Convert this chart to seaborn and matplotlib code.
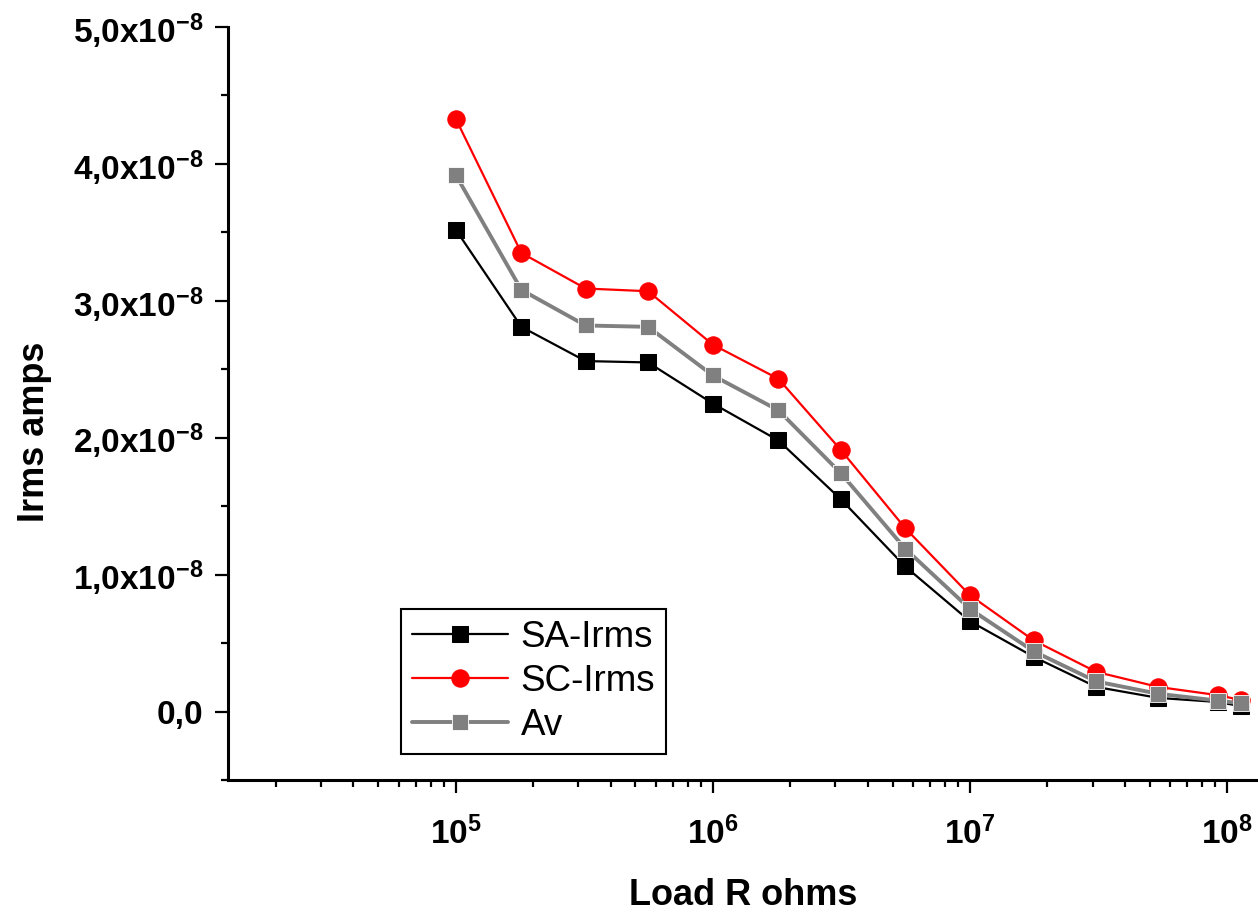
import numpy as np
import pandas as pd
import matplotlib
matplotlib.use("Agg")
import matplotlib.pyplot as plt
from matplotlib.ticker import FuncFormatter, MultipleLocator, LogLocator
import seaborn as sns

# load resistance (ohms) and rms current (x1e-8 A)
load_r = [1e5, 1.8e5, 3.2e5, 5.6e5, 1e6, 1.8e6, 3.15e6, 5.6e6,
          1e7, 1.77e7, 3.1e7, 5.4e7, 9.2e7, 1.13e8]
sa_irms = [3.52, 2.81, 2.56, 2.55, 2.25, 1.98, 1.55, 1.06,
           0.66, 0.40, 0.18, 0.10, 0.07, 0.04]
sc_irms = [4.33, 3.35, 3.09, 3.07, 2.68, 2.43, 1.91, 1.34,
           0.85, 0.52, 0.29, 0.18, 0.12, 0.085]
av_irms = [3.92, 3.08, 2.82, 2.81, 2.455, 2.20, 1.74, 1.19,
           0.75, 0.44, 0.22, 0.13, 0.08, 0.06]
scale = 1e-8

df = pd.DataFrame({"R": load_r,
                   "SA-Irms": np.array(sa_irms) * scale,
                   "SC-Irms": np.array(sc_irms) * scale,
                   "Av": np.array(av_irms) * scale})

sns.set_style("ticks")
plt.rcParams["font.family"] = ["Liberation Sans", "DejaVu Sans"]
plt.rcParams["font.weight"] = "bold"
plt.rcParams["mathtext.fontset"] = "custom"
plt.rcParams["mathtext.rm"] = "Liberation Sans:bold"
plt.rcParams["mathtext.bf"] = "Liberation Sans:bold"
plt.rcParams["mathtext.default"] = "rm"
for k in ["text.color", "axes.labelcolor", "xtick.color", "ytick.color", "axes.edgecolor"]:
    plt.rcParams[k] = "black"

fig = plt.figure(figsize=(12.58, 9.15), dpi=100)
ax = fig.add_axes([0.1812, 0.1475, 0.8188, 0.823])

sns.lineplot(data=df, x="R", y="SA-Irms", ax=ax, color="black", lw=1.6,
             marker="s", markersize=11.5, markeredgecolor="black", label="SA-Irms")
sns.lineplot(data=df, x="R", y="SC-Irms", ax=ax, color="#ff0000", lw=1.6,
             marker="o", markersize=12.5, markeredgecolor="#ff0000", label="SC-Irms")
sns.lineplot(data=df, x="R", y="Av", ax=ax, color="#808080", lw=2.8,
             marker="s", markersize=12, markeredgecolor="white",
             markeredgewidth=0.6, label="Av")

ax.set_xscale("log")
ax.set_xlim(1.3e4, 1.32e8)
ax.set_ylim(-0.5e-8, 5.0e-8)
ax.xaxis.set_major_locator(LogLocator(base=10))
ax.xaxis.set_minor_locator(LogLocator(base=10, subs=np.arange(2, 10)))
ax.xaxis.set_major_formatter(FuncFormatter(lambda v, p: "10$^{%d}$" % round(np.log10(v))))
ax.yaxis.set_major_locator(MultipleLocator(1e-8))
ax.yaxis.set_minor_locator(MultipleLocator(0.5e-8))


def yfmt(v, pos):
    m = v / scale
    if abs(m) < 1e-6:
        return "0,0"
    return ("%.1f" % m).replace(".", ",") + "x10$^{-8}$"


ax.yaxis.set_major_formatter(FuncFormatter(yfmt))

sns.despine(ax=ax)
for s in ["left", "bottom"]:
    ax.spines[s].set_linewidth(2.2)
ax.tick_params(which="major", direction="out", length=9.5, width=1.6, labelsize=24)
ax.tick_params(which="minor", direction="out", length=5, width=1.6)
ax.tick_params(axis="y", which="major", pad=8)
ax.tick_params(axis="x", which="major", pad=17)

ax.set_xlabel("Load R ohms", fontsize=26, fontweight="bold", va="top")
ax.set_ylabel("Irms amps", fontsize=26, fontweight="bold")
ax.xaxis.set_label_coords(0.5, -0.130)
ax.yaxis.set_label_coords(-0.171, 0.462)

leg = ax.legend(loc="lower left", bbox_to_anchor=(0.168, 0.0345), borderaxespad=0,
                prop={"size": 26.5, "weight": "normal"}, frameon=True, fancybox=False,
                edgecolor="black", handlelength=2.6, handletextpad=0.35,
                labelspacing=0.25, borderpad=0.3)
leg.get_frame().set_linewidth(1.5)
leg.get_frame().set_alpha(1)

fig.savefig("out.png", dpi=100)
